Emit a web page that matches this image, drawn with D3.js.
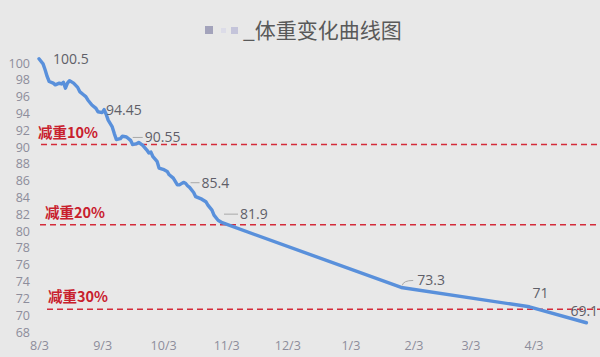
<!DOCTYPE html>
<html><head><meta charset="utf-8">
<script src="https://cdn.jsdelivr.net/npm/d3@7"></script>
<style>
html,body{margin:0;padding:0;background:#e8e8e8;}
svg{display:block;}
</style></head>
<body>
<svg id="chart" width="600" height="357"></svg>
<script>
// ---- data ----
const titleText = "_体重变化曲线图";
const dates = ["2018-08-03","2018-08-05","2018-08-06","2018-08-07","2018-08-08","2018-08-10","2018-08-11","2018-08-13","2018-08-14","2018-08-15","2018-08-16","2018-08-17","2018-08-18","2018-08-20","2018-08-22","2018-08-23","2018-08-25","2018-08-26","2018-08-27","2018-08-29","2018-08-31","2018-09-01","2018-09-03","2018-09-04","2018-09-05","2018-09-06","2018-09-08","2018-09-09","2018-09-10","2018-09-12","2018-09-13","2018-09-15","2018-09-17","2018-09-18","2018-09-20","2018-09-21","2018-09-23","2018-09-25","2018-09-26","2018-09-27","2018-09-28","2018-09-30","2018-10-01","2018-10-03","2018-10-05","2018-10-06","2018-10-08","2018-10-10","2018-10-11","2018-10-13","2018-10-14","2018-10-15","2018-10-16","2018-10-18","2018-10-19","2018-10-22","2018-10-24","2018-10-25","2018-10-27","2018-10-28","2018-10-30","2018-11-01","2019-01-28","2019-04-01","2019-04-29"];
const weights = [100.5,99.9,99.2,98.4,97.8,97.6,97.4,97.6,97.5,97.7,97.0,97.6,97.9,97.6,97.1,96.6,96.2,96.0,95.6,95.0,94.6,94.2,94.1,94.45,93.9,93.2,92.4,91.6,90.9,91.0,91.3,91.2,90.8,90.3,90.4,90.55,90.2,89.65,89.3,89.4,88.85,88.3,87.5,87.35,87.1,86.7,86.3,85.5,85.5,85.8,85.7,85.4,85.2,84.6,84.1,83.8,83.5,83.1,82.5,81.9,81.3,81.0,73.3,71.0,69.1];
const labeledDates = ["2018-08-03","2018-09-04","2018-09-21","2018-10-15","2018-10-28","2019-01-28","2019-04-01","2019-04-29"];
const yTicks = [68,70,72,74,76,78,80,82,84,86,88,90,92,94,96,98,100];
const xTickDates = ["2018-08-03","2018-09-03","2018-10-03","2018-11-03","2018-12-03","2019-01-03","2019-02-03","2019-03-03","2019-04-03"];
const xTickLabels = ["8/3","9/3","10/3","11/3","12/3","1/3","2/3","3/3","4/3"];
const goalLabels = ["减重10%","减重20%","减重30%"];
const goalValues = [90.3, 80.75, 70.7];

// ---- drawing ----
const parse = d3.utcParse("%Y-%m-%d");
const svg = d3.select("#chart");
const x = d3.scaleUtc().domain([parse("2018-08-03"), parse("2019-04-29")]).range([39, 586.4]);
const y = d3.scaleLinear().domain([68, 100]).range([332, 63]);

const data = dates.map((d,i)=>({date:parse(d), v:weights[i], key:d}));

// title
const tg = svg.append("g");
[[205,26,8,8,"#a3a3bb"],[221,28,5,5,"#dcdce8"],[231,27,7,7,"#c4c4da"]].forEach(r=>{
  tg.append("rect").attr("x",r[0]).attr("y",r[1]).attr("width",r[2]).attr("height",r[3]).attr("fill",r[4]);
});
tg.append("text").attr("x",243).attr("y",38)
  .attr("font-family","'Noto Sans CJK SC', sans-serif").attr("font-size",21)
  .attr("fill","#595959").text(titleText);

// y axis (labels only)
const yAxis = d3.axisLeft(y).tickValues(yTicks).tickSize(0).tickPadding(0);
const yg = svg.append("g").attr("transform","translate(30,0)").call(yAxis);
yg.select(".domain").remove();
yg.selectAll("text").attr("font-family","'Open Sans', sans-serif").attr("font-size",12.5).attr("fill","#8d8d9b");

// x axis (labels only)
const xAxis = d3.axisBottom(x).tickValues(xTickDates.map(parse)).tickFormat((d,i)=>xTickLabels[i]).tickSize(0).tickPadding(0);
const xg = svg.append("g").attr("transform","translate(0,341)").call(xAxis);
xg.select(".domain").remove();
xg.selectAll("text").attr("font-family","'Open Sans', sans-serif").attr("font-size",12.5).attr("fill","#8d8d9b");

// goal dashed lines
const goalX = [[41,38],[40,45],[47,48]];
goalValues.forEach((g,i)=>{
  svg.append("line").attr("x1",goalX[i][0]).attr("x2",600).attr("y1",y(g)).attr("y2",y(g))
    .attr("stroke","#d42b3a").attr("stroke-width",1.4).attr("stroke-dasharray","6,4");
  svg.append("text").attr("x",goalX[i][1]).attr("y",y(g)-12).attr("dy","0.35em")
    .attr("font-family","'Noto Sans CJK SC', sans-serif").attr("font-weight",700).attr("font-size",14.5)
    .attr("fill","#c8202d").text(goalLabels[i]);
});

// weight line
const line = d3.line().x(d=>x(d.date)).y(d=>y(d.v));
svg.append("path").datum(data).attr("d",line).attr("fill","none")
  .attr("stroke","#5990db").attr("stroke-width",3.4).attr("stroke-linejoin","round").attr("stroke-linecap","round");

// data labels
const labelOffsets = {
  "2018-08-03":[14,0,0],
  "2018-09-04":[2,0,0],
  "2018-09-21":[6,-5,12],
  "2018-10-15":[14,-3,11],
  "2018-10-28":[26,-1,16],
  "2019-01-28":[16,-7,0],
  "2019-04-01":[3,-14,0],
  "2019-04-29":[-16,-12,0]
};
labeledDates.forEach(k=>{
  const d = data.find(e=>e.key===k);
  const o = labelOffsets[k];
  const px = x(d.date)+o[0], py = y(d.v)+o[1];
  if(o[2]>0){
    svg.append("line").attr("x1",px-o[2]).attr("x2",px-2).attr("y1",py).attr("y2",py)
      .attr("stroke","#a8a8a8").attr("stroke-width",1);
  }
  if(k==="2019-01-28"){
    svg.append("path").attr("d",`M${x(d.date)+1},${y(d.v)-2} Q${x(d.date)+2},${py} ${px-4},${py}`)
      .attr("fill","none").attr("stroke","#a8a8a8").attr("stroke-width",1);
  }
  svg.append("text").attr("x",px).attr("y",py).attr("dy","0.35em")
    .attr("font-family","'Open Sans', sans-serif").attr("font-size",14).attr("fill","#5f5f68")
    .text(String(d.v));
});
</script>
</body></html>
